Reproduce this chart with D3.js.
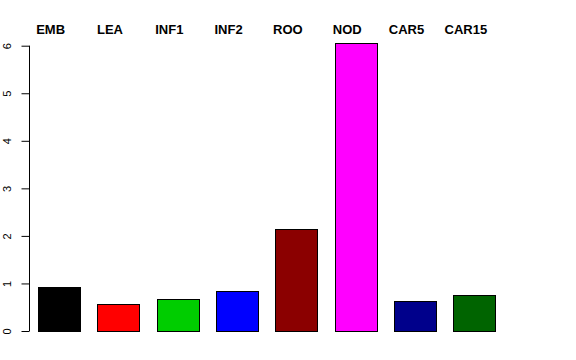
<!DOCTYPE html>
<html><head><meta charset="utf-8">
<script src="https://cdn.jsdelivr.net/npm/d3@7/dist/d3.min.js"></script>
<style>body{margin:0;background:#fff}svg{display:block}</style>
</head><body>
<svg id="c" width="576" height="360"></svg>
<script>
const categories = ["EMB","LEA","INF1","INF2","ROO","NOD","CAR5","CAR15"];
const values = [0.92, 0.57, 0.68, 0.84, 2.14, 6.05, 0.63, 0.75];
const colors = ["#000000","#FF0000","#00CD00","#0000FF","#8B0000","#FF00FF","#00008B","#006400"];
const yTicks = [0,1,2,3,4,5,6];

const svg = d3.select("#c");
const font = "'Liberation Sans', Arial, Helvetica, sans-serif";

const x = d3.scaleBand().domain(categories).range([29.5, 504])
  .paddingInner(0.286).paddingOuter(0.143);
const y = d3.scaleLinear().domain([0, 6]).range([331, 45.7]);

// bars
svg.append("g").selectAll("rect").data(categories).join("rect")
  .attr("x", d => Math.round(x(d)) + 0.5)
  .attr("width", Math.round(x.bandwidth()))
  .attr("y", (d,i) => Math.round(y(values[i])) + 0.5)
  .attr("height", (d,i) => Math.round(y(0)) - Math.round(y(values[i])))
  .attr("fill", (d,i) => colors[i])
  .attr("stroke", "#000").attr("stroke-width", 1);

// y axis
const ax = svg.append("g").attr("transform", "translate(29.5,0)")
  .call(d3.axisLeft(y).tickValues(yTicks).tickSize(8).tickFormat(d3.format("d")));
ax.select(".domain").attr("d", `M-0,${y(0)}V${y(6)}`).attr("stroke","#000");
ax.selectAll(".tick line").attr("stroke","#000");
ax.selectAll(".tick text").remove();
ax.selectAll(".tick").append("text")
  .attr("transform", "translate(-19,0) rotate(-90)")
  .attr("text-anchor", "middle")
  .attr("fill", "#000")
  .style("font-family", font).style("font-size", "11px")
  .text(d => d);

// top labels
svg.append("g").selectAll("text").data(categories).join("text")
  .attr("x", d => x(d) + x.bandwidth()/2 - 8.5)
  .attr("y", 34)
  .attr("text-anchor", "middle")
  .style("font-family", font).style("font-size", "13px").style("font-weight", "bold")
  .text(d => d);
</script>
</body></html>
